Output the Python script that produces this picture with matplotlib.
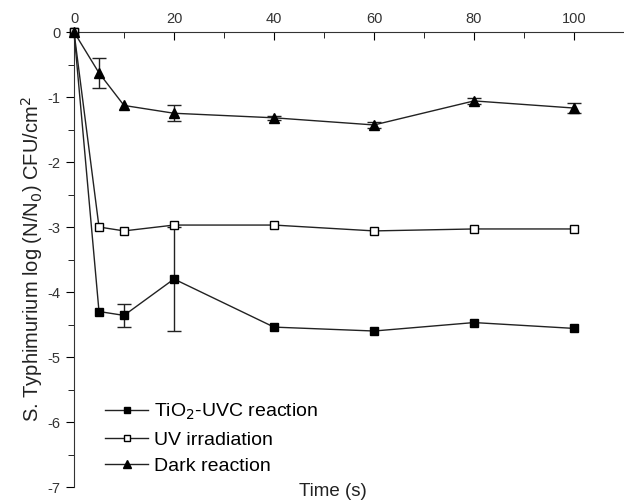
import numpy as np
import matplotlib.pyplot as plt
from matplotlib.ticker import MultipleLocator

plt.rcParams['font.family'] = ['Liberation Sans', 'DejaVu Sans']
plt.rcParams['axes.unicode_minus'] = False

time = [0, 5, 10, 20, 40, 60, 80, 100]

tio2_uvc = [0, -4.30, -4.36, -3.80, -4.54, -4.60, -4.47, -4.56]
tio2_err = [0, 0, 0.18, 0.80, 0, 0, 0, 0]

uv_irr = [0, -3.00, -3.06, -2.97, -2.97, -3.06, -3.03, -3.03]
uv_err = [0, 0, 0, 0, 0, 0, 0, 0]

dark = [0, -0.63, -1.13, -1.25, -1.32, -1.43, -1.06, -1.17]
dark_err = [0, 0.23, 0, 0.12, 0.03, 0.04, 0.04, 0.08]

labels = ["TiO$_2$-UVC reaction", "UV irradiation", "Dark reaction"]

fig = plt.figure(figsize=(6.24, 5.04), dpi=100)
ax = fig.add_axes([0.1186, 0.0337, 0.8814, 0.9028])

lc = "#222222"
series = [(tio2_uvc, tio2_err, "s", "black", 6),
          (uv_irr, uv_err, "s", "white", 6),
          (dark, dark_err, "^", "black", 7.5)]
handles = []
for yy, ee, mk, fc, ms in series:
    ln, = ax.plot(time, yy, "-" + mk, color=lc, mfc=fc, mec="black", ms=ms, lw=1,
                  clip_on=False, zorder=3)
    handles.append(ln)
    tt = np.array(time)
    yv = np.array(yy)
    ev = np.array(ee)
    m = ev > 0
    if m.any():
        ax.errorbar(tt[m], yv[m], yerr=ev[m], fmt="none", ecolor=lc, capsize=5,
                    elinewidth=1, capthick=1, zorder=2)

ax.set_xlim(0, 110)
ax.set_ylim(-7, 0)
ax.xaxis.set_major_locator(MultipleLocator(20))
ax.xaxis.set_minor_locator(MultipleLocator(10))
ax.yaxis.set_major_locator(MultipleLocator(1))
ax.yaxis.set_minor_locator(MultipleLocator(0.5))
ax.xaxis.tick_top()
ax.tick_params(axis="x", which="both", direction="in", labelsize=10.5, pad=4, labelcolor="#333333")
ax.tick_params(axis="x", which="major", length=6)
ax.tick_params(axis="x", which="minor", length=4)
ax.tick_params(axis="y", which="both", direction="out", labelsize=10.5, labelcolor="#333333")
ax.tick_params(axis="y", which="major", length=6)
ax.tick_params(axis="y", which="minor", length=4)
ax.spines["right"].set_visible(False)
ax.spines["bottom"].set_visible(False)
ax.spines["top"].set_color("#333333")
ax.spines["left"].set_color("#333333")

ax.set_ylabel("S. Typhimurium log (N/N$_0$) CFU/cm$^2$", fontsize=14.5, labelpad=2, color="#222222")
fig.text(0.534, 0.024, "Time (s)", fontsize=13.5, ha="center", va="center", color="#222222")

ax.legend(handles, labels, loc="lower left", bbox_to_anchor=(0.025, -0.012),
          frameon=False, fontsize=14, markerscale=0.7, handlelength=2.2, labelspacing=0.45,
          handletextpad=0.3)

plt.savefig("out.png")
